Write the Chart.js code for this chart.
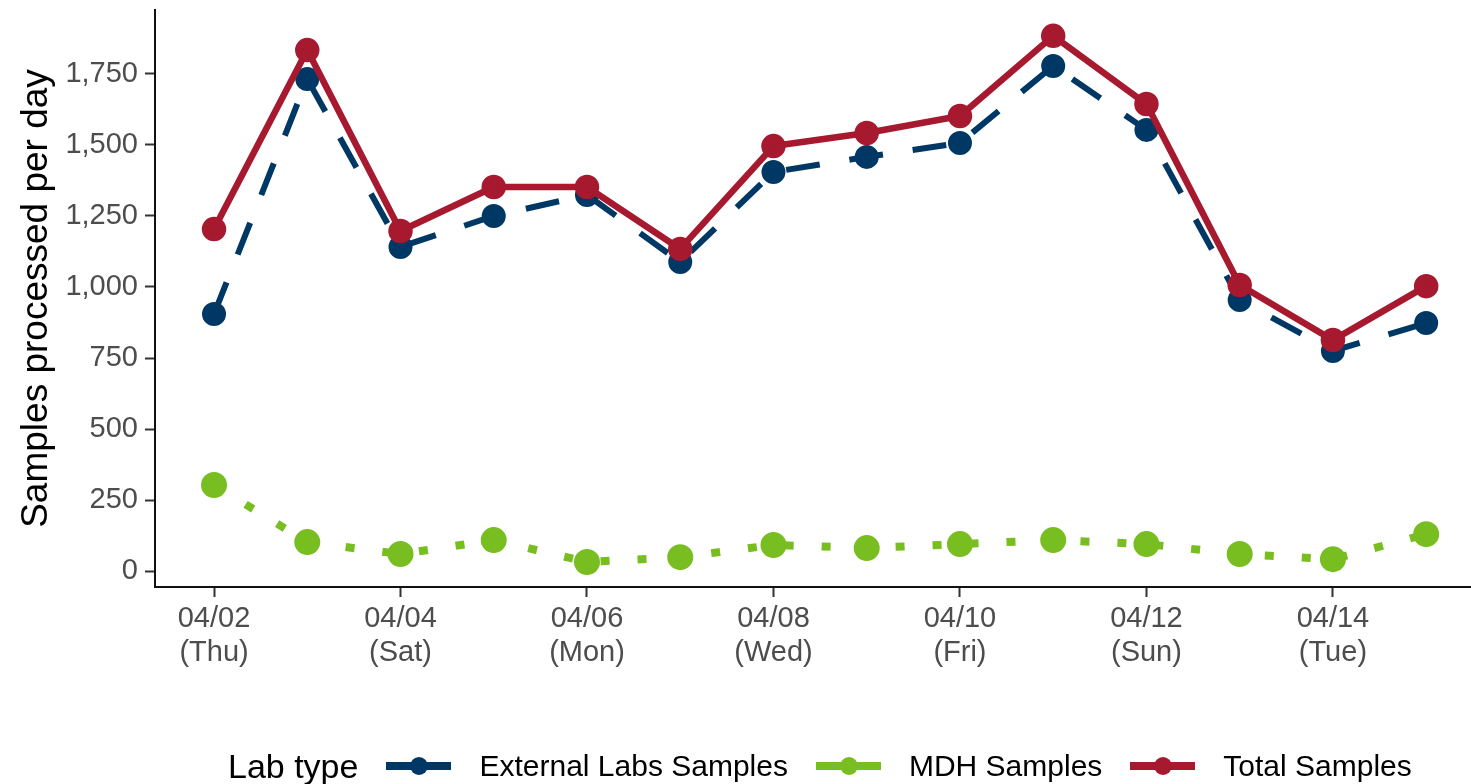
<!DOCTYPE html>
<html>
<head>
<meta charset="utf-8">
<script src="https://cdn.jsdelivr.net/npm/chart.js@4/dist/chart.umd.min.js"></script>
<style>
  html, body { margin: 0; padding: 0; background: #fff; }
  #wrap { position: relative; width: 1471px; height: 784px; }
  #legend {
    position: absolute; left: 228px; top: 744px; height: 44px;
    display: flex; align-items: center;
    font-family: "Liberation Sans", Arial, sans-serif; color: #000;
  }
  #legend .title { font-size: 34px; }
  #legend .key { position: relative; width: 65px; height: 8px; margin-left: 28px; }
  #legend .key span {
    position: absolute; left: 24px; top: -5px; width: 18px; height: 18px; border-radius: 50%;
  }
  #legend .lab { font-size: 30px; margin-left: 28px; }
</style>
</head>
<body>
<div id="wrap">
  <canvas id="chart" width="1471" height="784"></canvas>
  <div id="legend"></div>
</div>
<script>
  const days = ["04/02", "04/03", "04/04", "04/05", "04/06", "04/07", "04/08",
    "04/09", "04/10", "04/11", "04/12", "04/13", "04/14", "04/15"];
  const weekdays = ["Thu", "Fri", "Sat", "Sun", "Mon", "Tue", "Wed",
    "Thu", "Fri", "Sat", "Sun", "Mon", "Tue", "Wed"];

  const externalSamples = [905, 1732, 1141, 1250, 1324, 1088, 1405, 1458, 1507, 1778, 1553, 954, 775, 873];
  const mdhSamples = [303, 102, 60, 109, 32, 49, 92, 81, 95, 109, 95, 60, 42, 130];
  const totalSamples = [1204, 1834, 1197, 1352, 1352, 1134, 1496, 1542, 1602, 1884, 1644, 1007, 813, 1003];

  const yTicks = [0, 250, 500, 750, 1000, 1250, 1500, 1750];
  const xTicks = [0, 2, 4, 6, 8, 10, 12];

  const seriesNames = ["External Labs Samples", "MDH Samples", "Total Samples"];
  const seriesColors = ["#003865", "#78BE21", "#A6192E"];

  function toPoints(values) {
    return values.map((v, i) => ({ x: i, y: v }));
  }

  const datasets = [
    {
      label: seriesNames[0],
      data: toPoints(externalSamples),
      borderColor: seriesColors[0],
      backgroundColor: seriesColors[0],
      borderWidth: 6,
      borderDash: [34, 30],
      pointRadius: 9,
      order: 2
    },
    {
      label: seriesNames[1],
      data: toPoints(mdhSamples),
      borderColor: seriesColors[1],
      backgroundColor: seriesColors[1],
      borderWidth: 8,
      borderDash: [9, 28],
      pointRadius: 9,
      order: 3
    },
    {
      label: seriesNames[2],
      data: toPoints(totalSamples),
      borderColor: seriesColors[2],
      backgroundColor: seriesColors[2],
      borderWidth: 6.5,
      pointRadius: 9,
      order: 1
    }
  ];

  const fontFamily = "'Liberation Sans', Arial, sans-serif";

  new Chart(document.getElementById("chart"), {
    type: "line",
    data: { datasets },
    options: {
      responsive: false,
      animation: false,
      layout: { autoPadding: false, padding: { top: 10, right: 1, left: 0, bottom: 0 } },
      elements: {
        line: { tension: 0, borderCapStyle: "butt", borderJoinStyle: "round" },
        point: { borderWidth: 0, hoverRadius: 9 }
      },
      plugins: {
        legend: { display: false },
        tooltip: { enabled: false }
      },
      scales: {
        x: {
          type: "linear",
          min: -0.633,
          max: 13.47,
          afterBuildTicks: (scale) => {
            scale.ticks = xTicks.map((v) => ({ value: v }));
          },
          afterFit: (scale) => {
            scale.height = 197;
            scale.paddingLeft = 0;
            scale.paddingRight = 0;
          },
          grid: {
            display: true,
            drawOnChartArea: false,
            tickLength: 10,
            tickColor: "#333333",
            tickWidth: 2
          },
          border: { display: true, color: "#111111", width: 2 },
          ticks: {
            autoSkip: false,
            maxRotation: 0,
            padding: 5,
            color: "#4d4d4d",
            font: { family: fontFamily, size: 29, lineHeight: 1.17 },
            callback: (v) => [days[v], "(" + weekdays[v] + ")"]
          }
        },
        y: {
          min: -56,
          max: 1975,
          afterBuildTicks: (scale) => {
            scale.ticks = yTicks.map((v) => ({ value: v }));
          },
          afterFit: (scale) => {
            scale.width = 155;
            scale.paddingTop = 0;
            scale.paddingBottom = 0;
          },
          grid: {
            display: true,
            drawOnChartArea: false,
            tickLength: 10,
            tickColor: "#333333",
            tickWidth: 2
          },
          border: { display: true, color: "#111111", width: 2 },
          ticks: {
            padding: 7,
            color: "#4d4d4d",
            font: { family: fontFamily, size: 29 },
            callback: (v) => v.toLocaleString("en-US")
          },
          title: {
            display: true,
            text: "Samples processed per day",
            color: "#000",
            padding: { top: 15, bottom: 0 },
            font: { family: fontFamily, size: 37 }
          }
        }
      }
    }
  });

  // legend like ggplot's bottom legend: title inline with keys
  const legendEl = document.getElementById("legend");
  legendEl.innerHTML = '<div class="title">Lab type</div>';
  seriesNames.forEach((name, i) => {
    const key = document.createElement("div");
    key.className = "key";
    key.style.background = seriesColors[i];
    key.innerHTML = '<span style="background:' + seriesColors[i] + '"></span>';
    const lab = document.createElement("div");
    lab.className = "lab";
    lab.textContent = name;
    legendEl.appendChild(key);
    legendEl.appendChild(lab);
  });
</script>
</body>
</html>
